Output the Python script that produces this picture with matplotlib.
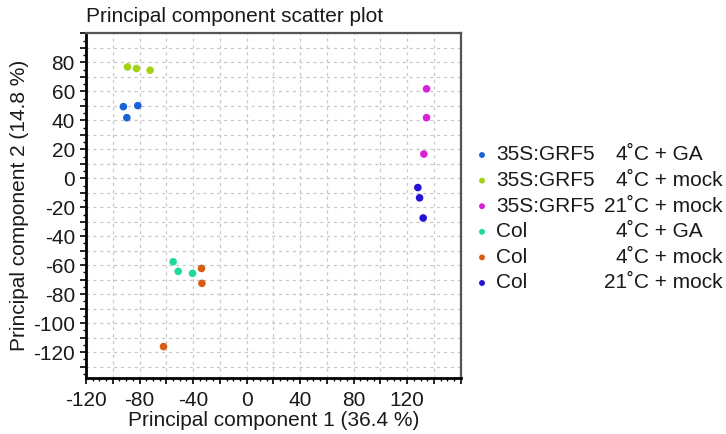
import matplotlib
matplotlib.use("Agg")
import matplotlib.pyplot as plt
from matplotlib.ticker import MultipleLocator, FuncFormatter

plt.rcParams['font.family'] = ['Liberation Sans', 'DejaVu Sans']
plt.rcParams['axes.unicode_minus'] = False

# === 데이터 ===
genotypes = ["35S:GRF5", "35S:GRF5", "35S:GRF5", "Col", "Col", "Col"]
temps = ["4", "4", "21", "4", "4", "21"]
treatments = ["GA", "mock", "mock", "GA", "mock", "mock"]
colors = ["#1a62d8", "#a2d412", "#d820d8", "#1ed8a0", "#d85c12", "#2412d8"]

pc1 = [
    [-92.1, -89.5, -81.3],
    [-89.0, -82.3, -72.1],
    [134.5, 134.5, 132.5],
    [-54.9, -51.1, -40.4],
    [-33.7, -33.4, -62.1],
    [128.0, 129.3, 132.0],
]
pc2 = [
    [49.4, 41.8, 50.1],
    [76.8, 75.7, 74.5],
    [61.7, 41.8, 16.7],
    [-57.6, -64.2, -65.6],
    [-62.2, -72.5, -116.1],
    [-6.4, -13.5, -27.4],
]

FS = 15
TEXT = "#1a1a1a"

fig = plt.figure(figsize=(7.26, 4.34), dpi=100)
fig.patch.set_facecolor("white")
ax = fig.add_axes([0.1185, 0.1283, 0.516, 0.795])

for xs, ys, c in zip(pc1, pc2, colors):
    ax.scatter(xs, ys, s=30, color=c, edgecolors="none", zorder=3)

ax.set_xlim(-120, 160)
ax.set_ylim(-138, 100)

# 눈금
ax.xaxis.set_major_locator(MultipleLocator(20))
ax.xaxis.set_minor_locator(MultipleLocator(5))
ax.yaxis.set_major_locator(MultipleLocator(10))
ax.yaxis.set_minor_locator(MultipleLocator(5))
ax.xaxis.set_major_formatter(FuncFormatter(
    lambda v, p: f"{v:.0f}" if round(v) % 40 == 0 and v < 150 else ""))
ax.yaxis.set_major_formatter(FuncFormatter(
    lambda v, p: f"{v:.0f}" if round(v) % 20 == 0 and v < 95 else ""))
ax.tick_params(axis="both", which="major", direction="out", length=4, width=1.2,
               labelsize=FS, colors="black", labelcolor=TEXT)
ax.tick_params(axis="both", which="minor", direction="out", length=2.5, width=1)
ax.tick_params(axis="x", which="major", pad=5)
ax.tick_params(axis="y", which="major", pad=4)

ax.grid(True, which="major", color="#c8c8c8", linestyle=(0, (2.5, 3)), linewidth=0.9)
ax.set_axisbelow(True)

for side in ["left", "bottom"]:
    ax.spines[side].set_linewidth(2)
    ax.spines[side].set_color("black")
for side in ["top", "right"]:
    ax.spines[side].set_linewidth(1.6)
    ax.spines[side].set_color("#555555")

ax.set_title("Principal component scatter plot", loc="left", fontsize=FS,
             color=TEXT, pad=8)
ax.set_xlabel("Principal component 1 (36.4 %)", fontsize=FS, color=TEXT, labelpad=1)
ax.set_ylabel("Principal component 2 (14.8 %)", fontsize=FS, color=TEXT, labelpad=3)

# --- 범례 (픽셀 좌표) ---
lax = fig.add_axes([0, 0, 1, 1])
lax.set_xlim(0, 726)
lax.set_ylim(434, 0)
lax.axis("off")
row_y0, row_dy = 155, 25.6
for i, (g, t, tr, c) in enumerate(zip(genotypes, temps, treatments, colors)):
    y = row_y0 + i * row_dy
    lax.scatter([482], [y], s=18, color=c, edgecolors="none")
    lax.text(496, y, g, fontsize=FS, color=TEXT, va="center", ha="left")
    lax.text(627, y, t, fontsize=FS, color=TEXT, va="center", ha="right")
    lax.text(627, y, f"˚C + {tr}", fontsize=FS, color=TEXT, va="center", ha="left")

fig.savefig("out.png", dpi=100, facecolor="white")
plt.close(fig)
